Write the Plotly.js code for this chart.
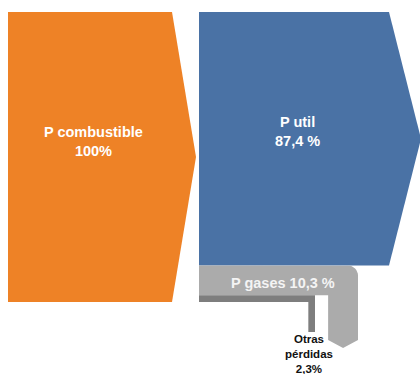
<!DOCTYPE html>
<html>
<head>
<meta charset="utf-8">
<script src="https://cdn.plot.ly/plotly-3.0.1.min.js"></script>
<style>html,body{margin:0;padding:0;background:#fff;}#chart{width:420px;height:374px;}</style>
</head>
<body>
<div id="chart"></div>
<script>
// Data
const flowNames = ["P combustible", "P util", "P gases", "Otras pérdidas"];
const flowPct = [100, 87.4, 10.3, 2.3];
const flowLabels = ["P combustible<br>100%", "P util<br>87,4 %", "P gases 10,3 %", "Otras<br>pérdidas<br>2,3%"];
const flowColors = ["#EE8226", "#4A72A5", "#ABABAB", "#7E7E7E"];

// Geometry (pixel-like axis units)
const yTop = 12, k = 2.9;              // px per percent
const hIn = flowPct[0] * k;
const hUtil = flowPct[1] * k, hGas = flowPct[2] * k, hOtr = flowPct[3] * k;

function poly(xs, ys, color, name) {
  return {type: 'scatter', mode: 'lines', x: xs.concat([xs[0]]), y: ys.concat([ys[0]]),
    fill: 'toself', fillcolor: color, line: {width: 0, color: color}, hoverinfo: 'name', name: name, showlegend: false};
}

// Orange input arrow
const oL = 8, oR = 172, oTip = 196;
const tr1 = poly([oL, oR, oTip, oR, oL], [yTop, yTop, yTop + hIn / 2, yTop + hIn, yTop + hIn], flowColors[0], flowNames[0]);

// Blue useful arrow
const bL = 199, bR = 389, bTip = 421;
const uBot = yTop + hUtil;
const tr2 = poly([bL, bR, bTip, bR, bL], [yTop, yTop, yTop + hUtil / 2, uBot, uBot], flowColors[1], flowNames[1]);

// Gray gases band turning down
const gBot = uBot + hGas;
const gOuter = 358, gInner = gOuter - hGas, r = 10;
const gx = [bL, gOuter - r], gy = [uBot, uBot];
for (let i = 1; i <= 8; i++) {
  const a = -Math.PI / 2 + (Math.PI / 2) * i / 8;
  gx.push(gOuter - r + r * Math.cos(a)); gy.push(uBot + r + r * Math.sin(a));
}
const gEnd = 340, gTipY = 348;
gx.push(gOuter, (gOuter + gInner) / 2, gInner, gInner, bL);
gy.push(gEnd, gTipY, gEnd, gBot, gBot);
const tr3 = poly(gx, gy, flowColors[2], flowNames[2]);

// Dark gray other-losses band
const oBot = gBot + hOtr;
const dOuter = 315, dInner = dOuter - hOtr, dEnd = 332;
const tr4 = poly([bL, dOuter, dOuter, dInner, dInner, bL], [gBot, gBot, dEnd, dEnd, oBot, oBot], flowColors[3], flowNames[3]);

const bigFont = {family: 'Liberation Sans, Arial, sans-serif', size: 14.5, color: '#ffffff', weight: 'bold'};
const layout = {
  width: 420, height: 374,
  margin: {l: 0, r: 0, t: 0, b: 0},
  paper_bgcolor: '#ffffff', plot_bgcolor: '#ffffff',
  xaxis: {range: [0, 420], visible: false, fixedrange: true},
  yaxis: {range: [374, 0], visible: false, fixedrange: true},
  showlegend: false,
  annotations: [
    {x: 93, y: 141, xref: 'x', yref: 'y', text: flowLabels[0], showarrow: false, font: bigFont, align: 'center'},
    {x: 297, y: 131, xref: 'x', yref: 'y', text: flowLabels[1], showarrow: false, font: bigFont, align: 'center'},
    {x: 283, y: 283, xref: 'x', yref: 'y', text: flowLabels[2], showarrow: false, font: Object.assign({}, bigFont, {color: '#f4f4f4'}), align: 'center'},
    {x: 309, y: 353.5, xref: 'x', yref: 'y', text: flowLabels[3], showarrow: false,
      font: {family: 'Liberation Sans Narrow, Arial Narrow, Liberation Sans, sans-serif', size: 11.5, color: '#111111', weight: 'bold'}, align: 'center'}
  ]
};
Plotly.newPlot('chart', [tr1, tr2, tr3, tr4], layout, {displayModeBar: false, staticPlot: true});
</script>
</body>
</html>
